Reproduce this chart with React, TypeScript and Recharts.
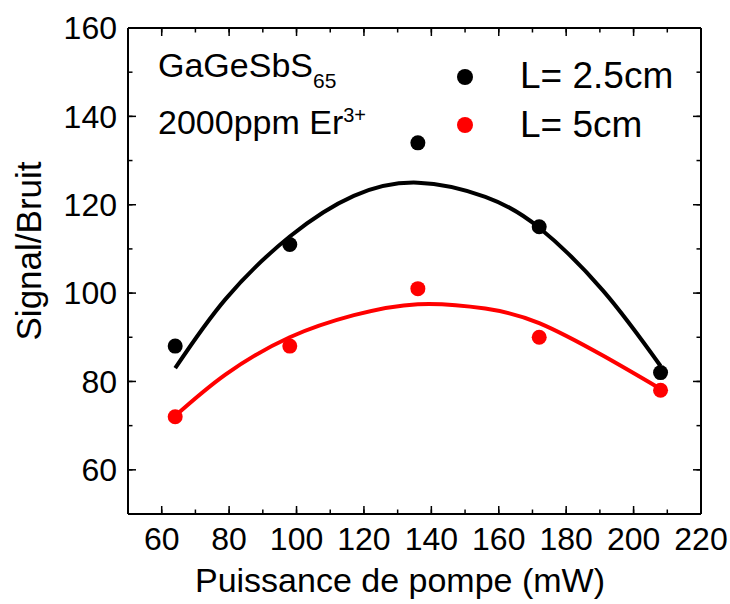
import React from "react";
import { ComposedChart, Line, Scatter, XAxis, YAxis } from "recharts";

// measured points
const power = [64, 98, 136, 172, 208];
const snrShort = [88, 111, 134, 115, 82];
const snrLong = [72, 88, 101, 90, 78];

// fit curves
const fitPower = [64, 79, 98, 117, 136, 156, 172, 191, 208];
const fitShort = [83, 98.7, 112.8, 122, 125, 121.8, 114.8, 100.5, 83.5];
const fitLong = [72.2, 81.6, 90, 95, 97.5, 96.5, 93.2, 85.8, 78.3];

const xMinor = [60, 70, 80, 90, 100, 110, 120, 130, 140, 150, 160, 170, 180, 190, 200, 210, 220];
const xMajor = [60, 80, 100, 120, 140, 160, 180, 200, 220];
const yMinor = [60, 70, 80, 90, 100, 110, 120, 130, 140, 150, 160];
const yMajor = [60, 80, 100, 120, 140, 160];

const X_DOMAIN = [50, 220];
const Y_DOMAIN = [50, 160];

const FONT = "'Liberation Sans', Arial, Helvetica, sans-serif";
const tickFont = { fontSize: 32, fontFamily: FONT, fill: "#000" };
const frame = { stroke: "#000", strokeWidth: 2 };
const tickStroke = { stroke: "#000", strokeWidth: 1.5 };
const noLabel = () => <g />;

const shortData = power.map((x, i) => ({ x, y: snrShort[i] }));
const longData = power.map((x, i) => ({ x, y: snrLong[i] }));
const fitShortData = fitPower.map((x, i) => ({ x, y: fitShort[i] }));
const fitLongData = fitPower.map((x, i) => ({ x, y: fitLong[i] }));

const Dot = (color: string) => (p: any) => <circle cx={p.cx} cy={p.cy} r={7.5} fill={color} />;

const XTitle = (p: any) => (
  <text x={400} y={p.viewBox.y + 78} textAnchor="middle" fontSize={34} fontFamily={FONT} fill="#000">
    Puissance de pompe (mW)
  </text>
);

const YTitle = () => {
  const cx = 41;
  const cy = 251;
  return (
    <text x={cx} y={cy} transform={`rotate(-90, ${cx}, ${cy})`} textAnchor="middle" fontSize={35} fontFamily={FONT} fill="#000">
      Signal/Bruit
    </text>
  );
};

// every axis needs a series bound to it, otherwise recharts draws no ticks:
// scatters use the labelled bottom/left axes + mirrored minor ones,
// fit lines use the top/right frame axes + their mirrored minor ones
export default function App() {
  return (
    <div style={{ position: "absolute", left: 0, top: 0, width: 730, height: 604, background: "#fff", fontFamily: FONT }}>
      <ComposedChart width={730} height={604} margin={{ top: 0, right: 0, bottom: 0, left: 0 }}>
        {/* bottom: labels + major ticks pointing in */}
        <XAxis
          xAxisId="b"
          dataKey="x"
          type="number"
          orientation="bottom"
          domain={X_DOMAIN}
          ticks={xMajor}
          interval={0}
          height={90}
          tickSize={-8}
          tickMargin={21}
          tickLine={tickStroke}
          tick={tickFont}
          axisLine={frame}
          label={{ content: XTitle }}
        />
        <XAxis xAxisId="bm" dataKey="x" type="number" orientation="bottom" mirror domain={X_DOMAIN} ticks={xMinor} interval={0} height={0.01} tickSize={4.5} tickLine={tickStroke} tick={noLabel} axisLine={false} />
        {/* top */}
        <XAxis xAxisId="t" dataKey="x" type="number" orientation="top" domain={X_DOMAIN} ticks={xMajor} interval={0} height={28} tickSize={-8} tickLine={tickStroke} tick={noLabel} axisLine={frame} />
        <XAxis xAxisId="tm" dataKey="x" type="number" orientation="top" mirror domain={X_DOMAIN} ticks={xMinor} interval={0} height={0.01} tickSize={4.5} tickLine={tickStroke} tick={noLabel} axisLine={false} />
        {/* left: labels + major ticks */}
        <YAxis
          yAxisId="l"
          dataKey="y"
          type="number"
          orientation="left"
          domain={Y_DOMAIN}
          ticks={yMajor}
          interval={0}
          width={128}
          tickSize={-8}
          tickMargin={19}
          tickLine={tickStroke}
          tick={tickFont}
          axisLine={frame}
          label={{ content: YTitle }}
        />
        <YAxis yAxisId="lm" dataKey="y" type="number" orientation="left" mirror domain={Y_DOMAIN} ticks={yMinor} interval={0} width={0.01} tickSize={4.5} tickLine={tickStroke} tick={noLabel} axisLine={false} />
        {/* right */}
        <YAxis yAxisId="r" dataKey="y" type="number" orientation="right" domain={Y_DOMAIN} ticks={yMajor} interval={0} width={29} tickSize={-8} tickLine={tickStroke} tick={noLabel} axisLine={frame} />
        <YAxis yAxisId="rm" dataKey="y" type="number" orientation="right" mirror domain={Y_DOMAIN} ticks={yMinor} interval={0} width={0.01} tickSize={4.5} tickLine={tickStroke} tick={noLabel} axisLine={false} />

        <Line
          xAxisId="t"
          yAxisId="r"
          data={fitShortData}
          dataKey="y"
          type="natural"
          stroke="#000"
          strokeWidth={4}
          dot={false}
          activeDot={false}
          legendType="none"
          isAnimationActive={false}
        />
        <Line
          xAxisId="tm"
          yAxisId="rm"
          data={fitLongData}
          dataKey="y"
          type="natural"
          stroke="#ff0000"
          strokeWidth={4}
          dot={false}
          activeDot={false}
          legendType="none"
          isAnimationActive={false}
        />
        <Scatter xAxisId="b" yAxisId="l" name="L= 2.5cm" data={shortData} dataKey="y" fill="#000" shape={Dot("#000")} isAnimationActive={false} />
        <Scatter xAxisId="bm" yAxisId="lm" name="L= 5cm" data={longData} dataKey="y" fill="#ff0000" shape={Dot("#ff0000")} isAnimationActive={false} />
      </ComposedChart>

      {/* annotation */}
      <div style={{ position: "absolute", left: 158, top: 48, fontSize: 34, lineHeight: "34px", whiteSpace: "nowrap", color: "#000" }}>
        GaGeSbS<span style={{ fontSize: 21, position: "relative", top: 11 }}>65</span>
      </div>
      <div style={{ position: "absolute", left: 158, top: 105, fontSize: 34, lineHeight: "34px", whiteSpace: "nowrap", color: "#000" }}>
        2000ppm Er<span style={{ fontSize: 20, position: "relative", top: -12 }}>3+</span>
      </div>

      {/* legend */}
      <div style={{ position: "absolute", left: 457, top: 69, width: 16, height: 16, borderRadius: 8, background: "#000" }} />
      <div style={{ position: "absolute", left: 520, top: 57, fontSize: 37, lineHeight: "37px", whiteSpace: "nowrap", color: "#000" }}>
        L= 2.5cm
      </div>
      <div style={{ position: "absolute", left: 457, top: 117, width: 16, height: 16, borderRadius: 8, background: "#ff0000" }} />
      <div style={{ position: "absolute", left: 520, top: 106, fontSize: 37, lineHeight: "37px", whiteSpace: "nowrap", color: "#000" }}>
        L= 5cm
      </div>
    </div>
  );
}
